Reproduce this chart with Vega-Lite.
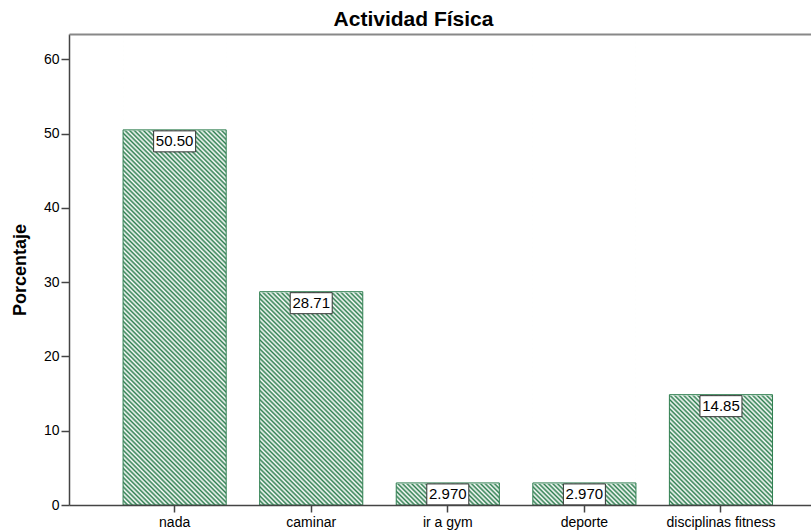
{
  "$schema": "https://vega.github.io/schema/vega-lite/v6.json",
  "width": 743,
  "height": 471,
  "autosize": "none",
  "padding": {"left": 69, "top": 34, "right": 0, "bottom": 26},
  "background": "white",
  "title": {"text": "Actividad Física", "fontSize": 21, "fontWeight": "bold", "font": "Liberation Sans", "color": "#000", "anchor": "middle", "dx": -27, "offset": 4},
  "config": {
    "view": {"stroke": null},
    "axis": {"domainColor": "#444444", "domainWidth": 1.5, "tickColor": "#444444", "tickWidth": 1.5, "labelFont": "Liberation Sans", "labelFontSize": 14, "labelColor": "#000", "titleFont": "Liberation Sans", "titleFontSize": 18, "titleFontWeight": "bold", "titleColor": "#000", "grid": false, "zindex": 1}
  },
  "resolve": {"axis": {"x": "independent"}},
  "data": {"values": [
    {"actividad": "nada", "porcentaje": 50.49505},
    {"actividad": "caminar", "porcentaje": 28.71287},
    {"actividad": "ir a gym", "porcentaje": 2.970297},
    {"actividad": "deporte", "porcentaje": 2.970297},
    {"actividad": "disciplinas fitness", "porcentaje": 14.85149}
  ]},
  "layer": [
    {
      "mark": {"type": "rect", "fill": {"gradient": "linear", "x1": 0, "y1": 1, "x2": 0.2543, "y2": -0.1631, "stops": [
        {"offset":0,"color":"#2f7f50"},{"offset":0.004,"color":"#fff"},{"offset":0.008,"color":"#2f7f50"},{"offset":0.012,"color":"#fff"},{"offset":0.016,"color":"#2f7f50"},{"offset":0.02,"color":"#fff"},{"offset":0.024,"color":"#2f7f50"},{"offset":0.028,"color":"#fff"},{"offset":0.032,"color":"#2f7f50"},{"offset":0.036,"color":"#fff"},{"offset":0.04,"color":"#2f7f50"},{"offset":0.044,"color":"#fff"},{"offset":0.048,"color":"#2f7f50"},{"offset":0.052,"color":"#fff"},{"offset":0.056,"color":"#2f7f50"},{"offset":0.06,"color":"#fff"},{"offset":0.064,"color":"#2f7f50"},{"offset":0.068,"color":"#fff"},{"offset":0.072,"color":"#2f7f50"},{"offset":0.076,"color":"#fff"},{"offset":0.08,"color":"#2f7f50"},{"offset":0.084,"color":"#fff"},{"offset":0.088,"color":"#2f7f50"},{"offset":0.092,"color":"#fff"},{"offset":0.096,"color":"#2f7f50"},
        {"offset":0.1,"color":"#fff"},{"offset":0.104,"color":"#2f7f50"},{"offset":0.108,"color":"#fff"},{"offset":0.112,"color":"#2f7f50"},{"offset":0.116,"color":"#fff"},{"offset":0.12,"color":"#2f7f50"},{"offset":0.124,"color":"#fff"},{"offset":0.128,"color":"#2f7f50"},{"offset":0.132,"color":"#fff"},{"offset":0.136,"color":"#2f7f50"},{"offset":0.14,"color":"#fff"},{"offset":0.144,"color":"#2f7f50"},{"offset":0.148,"color":"#fff"},{"offset":0.152,"color":"#2f7f50"},{"offset":0.156,"color":"#fff"},{"offset":0.16,"color":"#2f7f50"},{"offset":0.164,"color":"#fff"},{"offset":0.168,"color":"#2f7f50"},{"offset":0.172,"color":"#fff"},{"offset":0.176,"color":"#2f7f50"},{"offset":0.18,"color":"#fff"},{"offset":0.184,"color":"#2f7f50"},{"offset":0.188,"color":"#fff"},{"offset":0.192,"color":"#2f7f50"},{"offset":0.196,"color":"#fff"},
        {"offset":0.2,"color":"#2f7f50"},{"offset":0.204,"color":"#fff"},{"offset":0.208,"color":"#2f7f50"},{"offset":0.212,"color":"#fff"},{"offset":0.216,"color":"#2f7f50"},{"offset":0.22,"color":"#fff"},{"offset":0.224,"color":"#2f7f50"},{"offset":0.228,"color":"#fff"},{"offset":0.232,"color":"#2f7f50"},{"offset":0.236,"color":"#fff"},{"offset":0.24,"color":"#2f7f50"},{"offset":0.244,"color":"#fff"},{"offset":0.248,"color":"#2f7f50"},{"offset":0.252,"color":"#fff"},{"offset":0.256,"color":"#2f7f50"},{"offset":0.26,"color":"#fff"},{"offset":0.264,"color":"#2f7f50"},{"offset":0.268,"color":"#fff"},{"offset":0.272,"color":"#2f7f50"},{"offset":0.276,"color":"#fff"},{"offset":0.28,"color":"#2f7f50"},{"offset":0.284,"color":"#fff"},{"offset":0.288,"color":"#2f7f50"},{"offset":0.292,"color":"#fff"},{"offset":0.296,"color":"#2f7f50"},
        {"offset":0.3,"color":"#fff"},{"offset":0.304,"color":"#2f7f50"},{"offset":0.308,"color":"#fff"},{"offset":0.312,"color":"#2f7f50"},{"offset":0.316,"color":"#fff"},{"offset":0.32,"color":"#2f7f50"},{"offset":0.324,"color":"#fff"},{"offset":0.328,"color":"#2f7f50"},{"offset":0.332,"color":"#fff"},{"offset":0.336,"color":"#2f7f50"},{"offset":0.34,"color":"#fff"},{"offset":0.344,"color":"#2f7f50"},{"offset":0.348,"color":"#fff"},{"offset":0.352,"color":"#2f7f50"},{"offset":0.356,"color":"#fff"},{"offset":0.36,"color":"#2f7f50"},{"offset":0.364,"color":"#fff"},{"offset":0.368,"color":"#2f7f50"},{"offset":0.372,"color":"#fff"},{"offset":0.376,"color":"#2f7f50"},{"offset":0.38,"color":"#fff"},{"offset":0.384,"color":"#2f7f50"},{"offset":0.388,"color":"#fff"},{"offset":0.392,"color":"#2f7f50"},{"offset":0.396,"color":"#fff"},
        {"offset":0.4,"color":"#2f7f50"},{"offset":0.404,"color":"#fff"},{"offset":0.408,"color":"#2f7f50"},{"offset":0.412,"color":"#fff"},{"offset":0.416,"color":"#2f7f50"},{"offset":0.42,"color":"#fff"},{"offset":0.424,"color":"#2f7f50"},{"offset":0.428,"color":"#fff"},{"offset":0.432,"color":"#2f7f50"},{"offset":0.436,"color":"#fff"},{"offset":0.44,"color":"#2f7f50"},{"offset":0.444,"color":"#fff"},{"offset":0.448,"color":"#2f7f50"},{"offset":0.452,"color":"#fff"},{"offset":0.456,"color":"#2f7f50"},{"offset":0.46,"color":"#fff"},{"offset":0.464,"color":"#2f7f50"},{"offset":0.468,"color":"#fff"},{"offset":0.472,"color":"#2f7f50"},{"offset":0.476,"color":"#fff"},{"offset":0.48,"color":"#2f7f50"},{"offset":0.484,"color":"#fff"},{"offset":0.488,"color":"#2f7f50"},{"offset":0.492,"color":"#fff"},{"offset":0.496,"color":"#2f7f50"},
        {"offset":0.5,"color":"#fff"},{"offset":0.504,"color":"#2f7f50"},{"offset":0.508,"color":"#fff"},{"offset":0.512,"color":"#2f7f50"},{"offset":0.516,"color":"#fff"},{"offset":0.52,"color":"#2f7f50"},{"offset":0.524,"color":"#fff"},{"offset":0.528,"color":"#2f7f50"},{"offset":0.532,"color":"#fff"},{"offset":0.536,"color":"#2f7f50"},{"offset":0.54,"color":"#fff"},{"offset":0.544,"color":"#2f7f50"},{"offset":0.548,"color":"#fff"},{"offset":0.552,"color":"#2f7f50"},{"offset":0.556,"color":"#fff"},{"offset":0.56,"color":"#2f7f50"},{"offset":0.564,"color":"#fff"},{"offset":0.568,"color":"#2f7f50"},{"offset":0.572,"color":"#fff"},{"offset":0.576,"color":"#2f7f50"},{"offset":0.58,"color":"#fff"},{"offset":0.584,"color":"#2f7f50"},{"offset":0.588,"color":"#fff"},{"offset":0.592,"color":"#2f7f50"},{"offset":0.596,"color":"#fff"},
        {"offset":0.6,"color":"#2f7f50"},{"offset":0.604,"color":"#fff"},{"offset":0.608,"color":"#2f7f50"},{"offset":0.612,"color":"#fff"},{"offset":0.616,"color":"#2f7f50"},{"offset":0.62,"color":"#fff"},{"offset":0.624,"color":"#2f7f50"},{"offset":0.628,"color":"#fff"},{"offset":0.632,"color":"#2f7f50"},{"offset":0.636,"color":"#fff"},{"offset":0.64,"color":"#2f7f50"},{"offset":0.644,"color":"#fff"},{"offset":0.648,"color":"#2f7f50"},{"offset":0.652,"color":"#fff"},{"offset":0.656,"color":"#2f7f50"},{"offset":0.66,"color":"#fff"},{"offset":0.664,"color":"#2f7f50"},{"offset":0.668,"color":"#fff"},{"offset":0.672,"color":"#2f7f50"},{"offset":0.676,"color":"#fff"},{"offset":0.68,"color":"#2f7f50"},{"offset":0.684,"color":"#fff"},{"offset":0.688,"color":"#2f7f50"},{"offset":0.692,"color":"#fff"},{"offset":0.696,"color":"#2f7f50"},
        {"offset":0.7,"color":"#fff"},{"offset":0.704,"color":"#2f7f50"},{"offset":0.708,"color":"#fff"},{"offset":0.712,"color":"#2f7f50"},{"offset":0.716,"color":"#fff"},{"offset":0.72,"color":"#2f7f50"},{"offset":0.724,"color":"#fff"},{"offset":0.728,"color":"#2f7f50"},{"offset":0.732,"color":"#fff"},{"offset":0.736,"color":"#2f7f50"},{"offset":0.74,"color":"#fff"},{"offset":0.744,"color":"#2f7f50"},{"offset":0.748,"color":"#fff"},{"offset":0.752,"color":"#2f7f50"},{"offset":0.756,"color":"#fff"},{"offset":0.76,"color":"#2f7f50"},{"offset":0.764,"color":"#fff"},{"offset":0.768,"color":"#2f7f50"},{"offset":0.772,"color":"#fff"},{"offset":0.776,"color":"#2f7f50"},{"offset":0.78,"color":"#fff"},{"offset":0.784,"color":"#2f7f50"},{"offset":0.788,"color":"#fff"},{"offset":0.792,"color":"#2f7f50"},{"offset":0.796,"color":"#fff"},
        {"offset":0.8,"color":"#2f7f50"},{"offset":0.804,"color":"#fff"},{"offset":0.808,"color":"#2f7f50"},{"offset":0.812,"color":"#fff"},{"offset":0.816,"color":"#2f7f50"},{"offset":0.82,"color":"#fff"},{"offset":0.824,"color":"#2f7f50"},{"offset":0.828,"color":"#fff"},{"offset":0.832,"color":"#2f7f50"},{"offset":0.836,"color":"#fff"},{"offset":0.84,"color":"#2f7f50"},{"offset":0.844,"color":"#fff"},{"offset":0.848,"color":"#2f7f50"},{"offset":0.852,"color":"#fff"},{"offset":0.856,"color":"#2f7f50"},{"offset":0.86,"color":"#fff"},{"offset":0.864,"color":"#2f7f50"},{"offset":0.868,"color":"#fff"},{"offset":0.872,"color":"#2f7f50"},{"offset":0.876,"color":"#fff"},{"offset":0.88,"color":"#2f7f50"},{"offset":0.884,"color":"#fff"},{"offset":0.888,"color":"#2f7f50"},{"offset":0.892,"color":"#fff"},{"offset":0.896,"color":"#2f7f50"},
        {"offset":0.9,"color":"#fff"},{"offset":0.904,"color":"#2f7f50"},{"offset":0.908,"color":"#fff"},{"offset":0.912,"color":"#2f7f50"},{"offset":0.916,"color":"#fff"},{"offset":0.92,"color":"#2f7f50"},{"offset":0.924,"color":"#fff"},{"offset":0.928,"color":"#2f7f50"},{"offset":0.932,"color":"#fff"},{"offset":0.936,"color":"#2f7f50"},{"offset":0.94,"color":"#fff"},{"offset":0.944,"color":"#2f7f50"},{"offset":0.948,"color":"#fff"},{"offset":0.952,"color":"#2f7f50"},{"offset":0.956,"color":"#fff"},{"offset":0.96,"color":"#2f7f50"},{"offset":0.964,"color":"#fff"},{"offset":0.968,"color":"#2f7f50"},{"offset":0.972,"color":"#fff"},{"offset":0.976,"color":"#2f7f50"},{"offset":0.98,"color":"#fff"},{"offset":0.984,"color":"#2f7f50"},{"offset":0.988,"color":"#fff"},{"offset":0.992,"color":"#2f7f50"},{"offset":0.996,"color":"#fff"},
        {"offset":1,"color":"#2f7f50"}
      ]}},
      "encoding": {
        "x": {"field": "actividad", "type": "nominal", "sort": null, "title": null,
          "scale": {"type": "band", "paddingInner": 0.245, "paddingOuter": 0.3425, "align": 0.578},
          "axis": {"labelAngle": 0, "tickSize": 7, "labelPadding": 3, "zindex": 1}}
      }
    },
    {
      "mark": {"type": "rect", "fill": "white", "stroke": "white", "strokeWidth": 1.5},
      "encoding": {
        "x": {"field": "actividad", "type": "nominal", "sort": null, "title": null,
          "axis": {"orient": "top", "labels": false, "ticks": false, "domainColor": "#888888", "domainWidth": 2, "title": null, "zindex": 2}},
        "y": {"field": "porcentaje", "type": "quantitative", "title": "Porcentaje",
          "scale": {"domain": [0, 63.4], "nice": false, "zero": true},
          "axis": {"values": [0, 10, 20, 30, 40, 50, 60], "tickSize": 8, "labelPadding": 2, "titlePadding": 14, "zindex": 1}},
        "y2": {"value": 1.5}
      }
    },
    {
      "mark": {"type": "bar", "fill": "transparent", "stroke": "#2f7f50", "strokeWidth": 1},
      "encoding": {
        "x": {"field": "actividad", "type": "nominal", "sort": null, "title": null, "axis": null},
        "y": {"field": "porcentaje", "type": "quantitative", "title": "Porcentaje"}
      }
    },
    {
      "mark": {"type": "point", "shape": "M-2.1,0.1L2.1,0.1L2.1,2.2L-2.1,2.2Z", "size": 400, "filled": true, "fill": "white", "stroke": "#333333", "strokeWidth": 1, "opacity": 1},
      "encoding": {
        "x": {"field": "actividad", "type": "nominal", "sort": null, "title": null, "axis": null},
        "y": {"field": "porcentaje", "type": "quantitative", "title": "Porcentaje"}
      }
    },
    {
      "mark": {"type": "text", "baseline": "middle", "dy": 11.5, "fontSize": 15, "font": "Liberation Sans", "color": "#000"},
      "encoding": {
        "x": {"field": "actividad", "type": "nominal", "sort": null, "title": null, "axis": null},
        "y": {"field": "porcentaje", "type": "quantitative", "title": "Porcentaje"},
        "text": {"field": "porcentaje", "type": "quantitative", "format": ".4r"}
      }
    }
  ]
}
